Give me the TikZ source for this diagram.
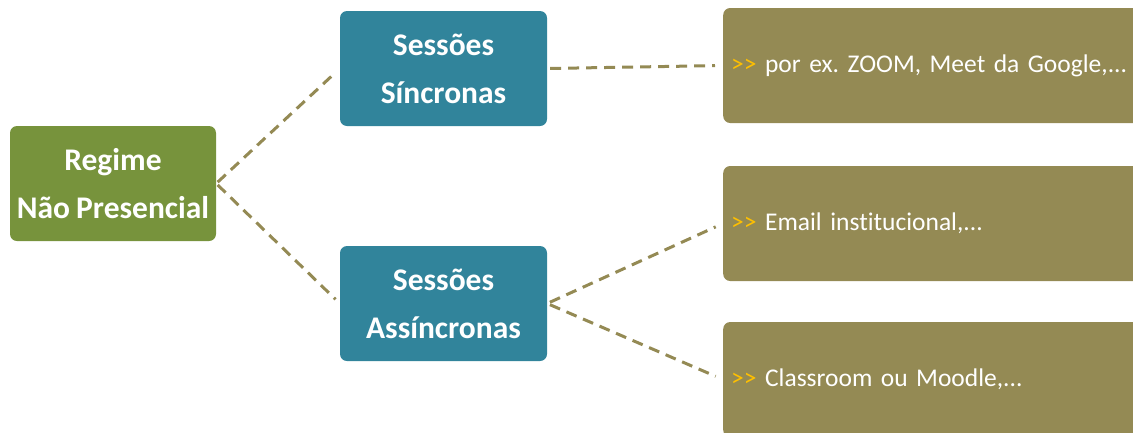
\documentclass[tikz,border=0pt]{standalone}
\usepackage{fontspec}
\setmainfont{Carlito}[Ligatures={NoCommon}, WordSpace=0.85]
\frenchspacing
\definecolor{regcol}{HTML}{77933C}
\definecolor{sescol}{HTML}{31849B}
\definecolor{olivecol}{HTML}{948A54}
\definecolor{arrcol}{HTML}{FFC000}
\newcommand{\gtmark}{\textcolor{arrcol}{>{}>}}
\tikzset{
  mainbox/.style={rounded corners=7pt, text=white, align=center,
    font=\fontsize{31.5}{48}\selectfont\bfseries, minimum height=115pt, inner sep=0pt},
  leafbox/.style={rounded corners=7pt, fill=olivecol, text=white, anchor=west,
    font=\fontsize{25.5}{32}\selectfont, minimum height=115pt, text width=430pt,
    align=left, inner xsep=8pt, inner ysep=0pt},
  conn/.style={draw=olivecol, line width=3pt, dash pattern=on 11pt off 7pt}
}
\begin{document}
\begin{tikzpicture}[x=1pt,y=-1pt]
\useasboundingbox (0,0) rectangle (1133,432);
\clip (0,0) rectangle (1133,432);
\node[mainbox, fill=regcol, minimum width=206pt] (reg) at (113,183.5) {Regime\\Não Presencial};
\node[mainbox, fill=sescol, minimum width=207pt] (sinc) at (443.5,68.5) {Sessões\\Síncronas};
\node[mainbox, fill=sescol, minimum width=207pt] (asinc) at (443.5,303.5) {Sessões\\Assíncronas};
\node[leafbox] (b1) at (723,65.5) {\gtmark{} por ex. ZOOM, Meet da Google,...};
\node[leafbox] (b2) at (723,223.5) {\gtmark{} Email institucional,...};
\node[leafbox] (b3) at (723,379.5) {\gtmark{} Classroom ou Moodle,...};
\draw[conn, shorten <=2pt, shorten >=6pt] (reg.east) -- (sinc.west);
\draw[conn, shorten <=2pt, shorten >=6pt] (reg.east) -- (asinc.west);
\draw[conn, shorten <=3pt, shorten >=8pt] (sinc.east) -- (b1.west);
\draw[conn, shorten <=3pt, shorten >=8pt] (asinc.east) -- (b2.west);
\draw[conn, shorten <=3pt, shorten >=8pt] (asinc.east) -- (b3.west);
\end{tikzpicture}
\end{document}
